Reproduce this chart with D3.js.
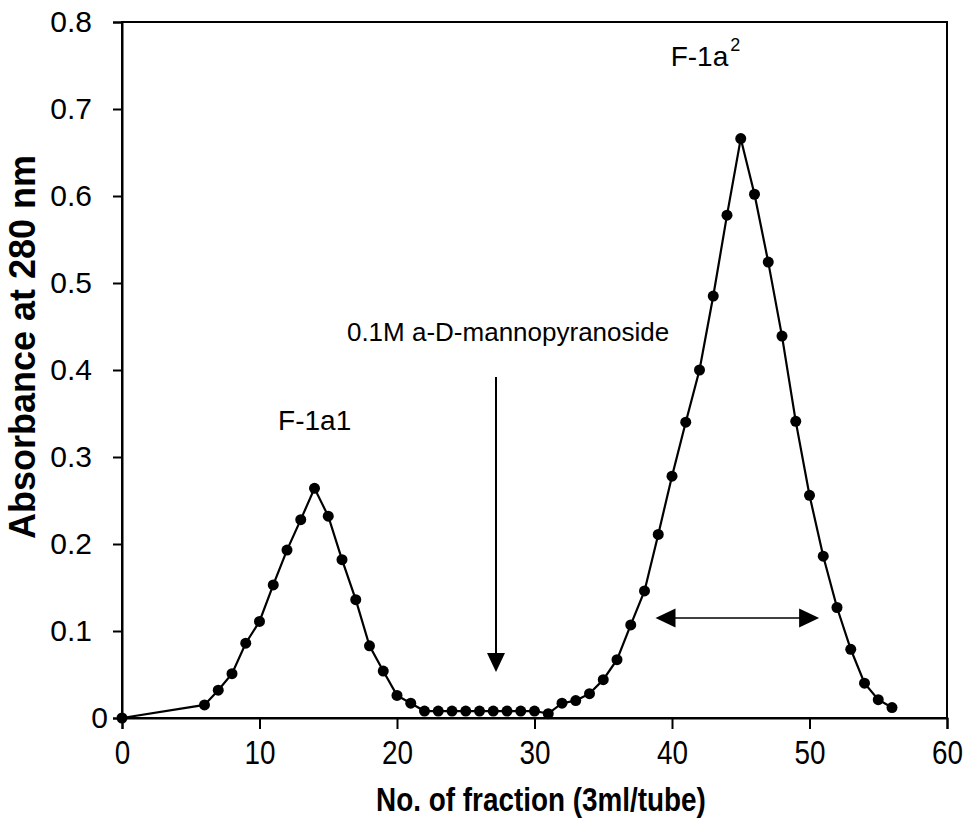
<!DOCTYPE html>
<html>
<head>
<meta charset="utf-8">
<script src="https://cdn.jsdelivr.net/npm/d3@7/dist/d3.min.js"></script>
<style>
  html, body { margin: 0; padding: 0; background: #fff; }
  svg { display: block; }
  text { font-family: "Liberation Sans", Arial, sans-serif; fill: #000; }
</style>
</head>
<body>
<svg id="chart" width="967" height="824"></svg>
<script>
// Elution profile: fraction number vs absorbance at 280 nm
const fractions = [0, 6, 7, 8, 9, 10, 11, 12, 13, 14, 15, 16, 17, 18, 19, 20, 21,
  22, 23, 24, 25, 26, 27, 28, 29, 30, 31, 32, 33, 34, 35, 36, 37, 38, 39,
  40, 41, 42, 43, 44, 45, 46, 47, 48, 49, 50, 51, 52, 53, 54, 55, 56];
const absorbance = [0, 0.015, 0.032, 0.051, 0.086, 0.111, 0.153, 0.193, 0.228, 0.264,
  0.232, 0.182, 0.136, 0.083, 0.054, 0.026, 0.017,
  0.008, 0.008, 0.008, 0.008, 0.008, 0.008, 0.008, 0.008, 0.008, 0.005,
  0.017, 0.020, 0.028, 0.044, 0.067, 0.107, 0.146, 0.211,
  0.278, 0.340, 0.400, 0.485, 0.578, 0.666, 0.602, 0.524, 0.439, 0.341,
  0.256, 0.186, 0.127, 0.079, 0.040, 0.021, 0.012];

const xTicks = [0, 10, 20, 30, 40, 50, 60];
const yTicks = [0, 0.1, 0.2, 0.3, 0.4, 0.5, 0.6, 0.7, 0.8];
const yTickLabels = ["0", "0.1", "0.2", "0.3", "0.4", "0.5", "0.6", "0.7", "0.8"];

const svg = d3.select("#chart");
const plot = { left: 122, right: 947, top: 22, bottom: 718 };

const x = d3.scaleLinear().domain([0, 60]).range([plot.left, plot.right]);
const y = d3.scaleLinear().domain([0, 0.8]).range([plot.bottom, plot.top]);

// plot frame
svg.append("rect")
  .attr("x", plot.left).attr("y", plot.top)
  .attr("width", plot.right - plot.left).attr("height", plot.bottom - plot.top)
  .attr("fill", "none").attr("stroke", "#000").attr("stroke-width", 2);

// y axis
const yAxis = svg.append("g")
  .attr("transform", `translate(${plot.left},0)`)
  .call(d3.axisLeft(y).tickValues(yTicks).tickSize(9).tickPadding(21)
    .tickFormat((d, i) => yTickLabels[i]));
yAxis.select(".domain").attr("stroke-width", 2);
yAxis.selectAll(".tick line").attr("stroke-width", 2);
yAxis.selectAll(".tick text")
  .attr("font-size", 30).attr("font-family", null);
// the zero label sits right next to its tick
yAxis.selectAll(".tick text").filter(d => d === 0).attr("x", -14);

// x axis
const xAxis = svg.append("g")
  .attr("transform", `translate(0,${plot.bottom})`)
  .call(d3.axisBottom(x).tickValues(xTicks).tickSize(11).tickPadding(11)
    .tickFormat(d3.format("d")));
xAxis.select(".domain").attr("stroke-width", 2);
xAxis.selectAll(".tick line").attr("stroke-width", 2);
xAxis.selectAll(".tick text")
  .attr("font-size", 34).attr("font-family", null)
  .attr("transform", "scale(0.82,1)");

// axis titles
svg.append("text")
  .attr("transform", `translate(35,347) rotate(-90)`)
  .attr("text-anchor", "middle")
  .attr("font-size", 36).attr("font-weight", "bold")
  .text("Absorbance at 280 nm");

svg.append("text")
  .attr("transform", `translate(541,811) scale(0.82,1)`)
  .attr("text-anchor", "middle")
  .attr("font-size", 34).attr("font-weight", "bold")
  .text("No. of fraction (3ml/tube)");

// elution curve
const points = fractions.map((f, i) => ({ f, a: absorbance[i] }));
const line = d3.line().x(d => x(d.f)).y(d => y(d.a));

svg.append("path")
  .datum(points)
  .attr("d", line)
  .attr("fill", "none").attr("stroke", "#000").attr("stroke-width", 2.2);

svg.append("g").selectAll("circle")
  .data(points).join("circle")
  .attr("cx", d => x(d.f)).attr("cy", d => y(d.a))
  .attr("r", 5.5).attr("fill", "#000");

// peak labels
svg.append("text")
  .attr("x", x(11.35)).attr("y", y(0.331))
  .attr("font-size", 28)
  .text("F-1a1");

const peak2 = svg.append("text")
  .attr("x", x(39.9)).attr("y", y(0.75))
  .attr("font-size", 28);
peak2.append("tspan").text("F-1a");
peak2.append("tspan").attr("font-size", 18).attr("dy", -15).attr("dx", 2).text("2");

// eluent change annotation
svg.append("text")
  .attr("x", x(16.36)).attr("y", y(0.433))
  .attr("font-size", 26)
  .text("0.1M a-D-mannopyranoside");

const arrowX = x(27.2);
const arrowTop = y(0.392), arrowTip = y(0.053);
svg.append("line")
  .attr("x1", arrowX).attr("x2", arrowX)
  .attr("y1", arrowTop).attr("y2", arrowTip - 16)
  .attr("stroke", "#000").attr("stroke-width", 2);
svg.append("path")
  .attr("d", `M${arrowX - 9},${arrowTip - 19} L${arrowX + 9},${arrowTip - 19} L${arrowX},${arrowTip} Z`)
  .attr("fill", "#000");

// pooled range (double-headed arrow)
const rangeY = y(0.115), rx1 = x(38.8), rx2 = x(50.7);
svg.append("line")
  .attr("x1", rx1 + 16).attr("x2", rx2 - 16)
  .attr("y1", rangeY).attr("y2", rangeY)
  .attr("stroke", "#000").attr("stroke-width", 1.6);
svg.append("path")
  .attr("d", `M${rx1},${rangeY} L${rx1 + 20},${rangeY - 9.5} L${rx1 + 20},${rangeY + 9.5} Z`)
  .attr("fill", "#000");
svg.append("path")
  .attr("d", `M${rx2},${rangeY} L${rx2 - 20},${rangeY - 9.5} L${rx2 - 20},${rangeY + 9.5} Z`)
  .attr("fill", "#000");
</script>
</body>
</html>
